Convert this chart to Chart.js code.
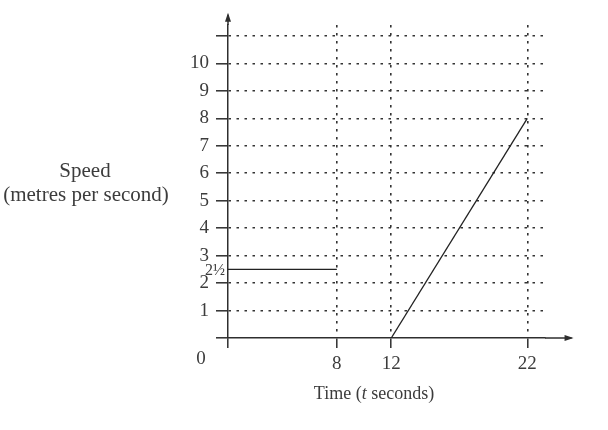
<!DOCTYPE html>
<html><head><meta charset="utf-8">
<script src="https://cdn.jsdelivr.net/npm/chart.js@4/dist/chart.umd.min.js"></script>
<style>html,body{margin:0;padding:0;background:#fff}#wrap{width:608px;height:430px}</style>
</head><body><div id="wrap"><canvas id="c" width="608" height="430"></canvas></div>
<script>
// ---- data ----
const segment1Times = [0, 8];
const segment1Speeds = [2.5, 2.5];
const segment2Times = [12, 22];
const segment2Speeds = [0, 8];
const xTickValues = [0, 8, 12, 22];
const xTickLabels = ['', '8', '12', '22'];
const yTickValues = [0, 1, 2, 3, 4, 5, 6, 7, 8, 9, 10, 11];
const yTickLabels = ['', '1', '2', '3', '4', '5', '6', '7', '8', '9', '10', ''];
const originLabel = '0';
const halfValue = 2.5;
const halfLabel = '2½';
const yTitleLines = ['Speed', '(metres per second)'];
const xTitleParts = ['Time (', 't', ' seconds)'];

const SERIF = "'Liberation Serif', 'DejaVu Serif', serif";
const TEXT = '#3c3c3c';
const AXIS = '#2e2e2e';
const GRID = '#333333';

const toPoints = (xs, ys) => xs.map((x, i) => ({x: x, y: ys[i]}));

const decor = {
  id: 'decor',
  afterDraw(chart) {
    const ctx = chart.ctx, xs = chart.scales.x, ys = chart.scales.y, a = chart.chartArea;
    const x0 = xs.getPixelForValue(0), y0 = ys.getPixelForValue(0);
    ctx.save();
    ctx.strokeStyle = AXIS; ctx.fillStyle = AXIS; ctx.lineWidth = 1.5; ctx.setLineDash([]);
    // y axis extension + arrow
    const yTip = ys.getPixelForValue(11.85);
    ctx.beginPath(); ctx.moveTo(x0, a.top); ctx.lineTo(x0, yTip + 2); ctx.stroke();
    ctx.beginPath(); ctx.moveTo(x0, yTip); ctx.lineTo(x0 - 3, yTip + 9); ctx.lineTo(x0 + 3, yTip + 9); ctx.closePath(); ctx.fill();
    // x axis extension + arrow
    const xTip = xs.getPixelForValue(25.4);
    ctx.beginPath(); ctx.moveTo(a.right, y0); ctx.lineTo(xTip - 2, y0); ctx.stroke();
    ctx.beginPath(); ctx.moveTo(xTip, y0); ctx.lineTo(xTip - 9, y0 - 3); ctx.lineTo(xTip - 9, y0 + 3); ctx.closePath(); ctx.fill();
    // texts
    ctx.fillStyle = TEXT;
    ctx.textBaseline = 'middle';
    ctx.textAlign = 'center';
    ctx.font = '19px ' + SERIF;
    ctx.fillText(originLabel, x0 - 27, y0 + 21);
    ctx.font = '21px ' + SERIF;
    ctx.fillText(yTitleLines[0], 85, 171);
    ctx.fillText(yTitleLines[1], 86, 195);
    // x title with italic t
    const fN = '18px ' + SERIF, fI = 'italic 18px ' + SERIF;
    ctx.font = fN; const w0 = ctx.measureText(xTitleParts[0]).width, w2 = ctx.measureText(xTitleParts[2]).width;
    ctx.font = fI; const w1 = ctx.measureText(xTitleParts[1]).width;
    let tx = 374 - (w0 + w1 + w2) / 2;
    ctx.textAlign = 'left';
    ctx.font = fN; ctx.fillText(xTitleParts[0], tx, 394); tx += w0;
    ctx.font = fI; ctx.fillText(xTitleParts[1], tx, 394); tx += w1;
    ctx.font = fN; ctx.fillText(xTitleParts[2], tx, 394);
    // 2 1/2 label
    ctx.textAlign = 'right';
    ctx.font = '16px ' + SERIF;
    ctx.fillText(halfLabel, x0 - 3, ys.getPixelForValue(halfValue) + 1);
    ctx.restore();
  }
};

new Chart(document.getElementById('c'), {
  type: 'scatter',
  data: {
    datasets: [
      {data: toPoints(segment1Times, segment1Speeds), showLine: true, borderColor: '#222', borderWidth: 1.4, pointRadius: 0, fill: false},
      {data: toPoints(segment2Times, segment2Speeds), showLine: true, borderColor: '#222', borderWidth: 1.3, pointRadius: 0, fill: false}
    ]
  },
  options: {
    responsive: false, animation: false, devicePixelRatio: 1,
    layout: {padding: {top: 25, right: 63, left: 0, bottom: 0}},
    plugins: {legend: {display: false}, tooltip: {enabled: false}},
    scales: {
      x: {
        type: 'linear', min: 0, max: 23.3,
        afterBuildTicks: s => { s.ticks = xTickValues.map(v => ({value: v})); },
        afterFit: s => { s.height = 92; },
        ticks: {
          callback: v => { const i = xTickValues.indexOf(v); return i < 0 ? '' : xTickLabels[i]; },
          font: {family: SERIF, size: 19}, color: TEXT, padding: 5, maxRotation: 0, autoSkip: false
        },
        grid: {
          color: c => (c.tick && c.tick.value === 0) ? 'rgba(0,0,0,0)' : GRID,
          lineWidth: 1.6, tickBorderDash: [],
          tickColor: AXIS, tickLength: 10, tickWidth: 1.5
        },
        border: {display: true, color: AXIS, width: 1.5, dash: [2.5, 5.5]}
      },
      y: {
        type: 'linear', min: 0, max: 11.4,
        afterBuildTicks: s => { s.ticks = yTickValues.map(v => ({value: v})); },
        afterFit: s => { s.width = 228; },
        ticks: {
          callback: v => { const i = yTickValues.indexOf(v); return i < 0 ? '' : yTickLabels[i]; },
          font: {family: SERIF, size: 19}, color: TEXT, padding: 7, autoSkip: false
        },
        grid: {
          color: c => (c.tick && c.tick.value === 0) ? 'rgba(0,0,0,0)' : GRID,
          lineWidth: 1.6, tickBorderDash: [],
          tickColor: AXIS, tickLength: 12, tickWidth: 1.5
        },
        border: {display: true, color: AXIS, width: 1.5, dash: [2.5, 5.5]}
      }
    }
  },
  plugins: [decor]
});
</script>
</body></html>
